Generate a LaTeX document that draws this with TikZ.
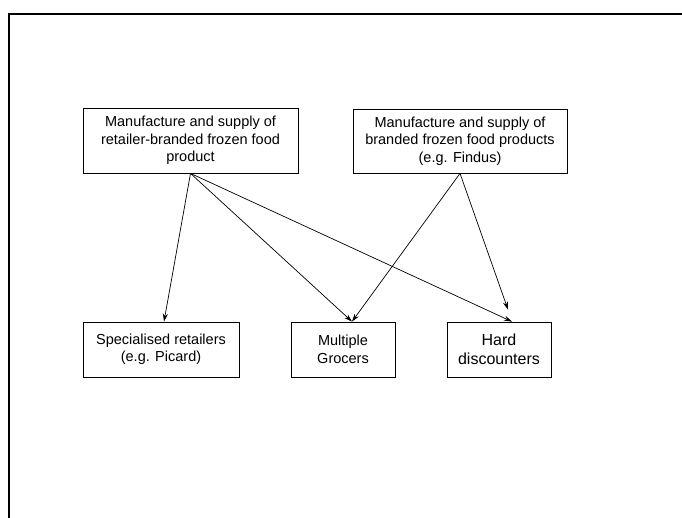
\documentclass[tikz,border=0pt]{standalone}
\usepackage{fontspec}
\setmainfont{Liberation Sans}
\usetikzlibrary{arrows.meta}

\begin{document}
\begin{tikzpicture}[x=1pt,y=-1pt,
    box/.style={draw,line width=0.8pt,align=center,inner sep=0pt,
      font=\fontsize{14.5}{17.5}\selectfont},
    link/.style={-{Stealth[length=8pt,width=5pt]},line width=0.7pt}]

        \useasboundingbox (0,0) rectangle (682,518);
        % frame
        \draw[line width=2pt] (682,14) -- (8.5,14) -- (8.5,520);

        % suppliers
        \node[box,minimum width=215pt,minimum height=65pt] (own) at (190.5,140.5)
          {Manufacture and supply of\\retailer-branded frozen food\\product};
        \node[box,minimum width=214pt,minimum height=64pt] (brand) at (460,141)
          {Manufacture and supply of\\branded frozen food products\\(e.g. Findus)};

        % retailers
        \node[box,minimum width=156pt,minimum height=55pt] (spec) at (161,349.5)
          {Specialised retailers\\(e.g. Picard)};
        \node[box,minimum width=104pt,minimum height=55pt] (multi) at (343,349.5)
          {Multiple\\Grocers};
        \node[box,minimum width=104pt,minimum height=55pt,
          font=\fontsize{16}{18.5}\selectfont] (hard) at (499,349.5)
          {Hard\\discounters};

        \draw[link] (own.south) -- ([xshift=3pt]spec.north);
        \draw[link] (own.south) -- ([xshift=9pt]multi.north);
        \draw[link] (own.south) -- ([xshift=13pt]hard.north);
        \draw[link] (brand.south) -- ([xshift=9pt]multi.north);
        \draw[link] (brand.south) -- ([xshift=9pt,yshift=12pt]hard.north);

\end{tikzpicture}
\end{document}
